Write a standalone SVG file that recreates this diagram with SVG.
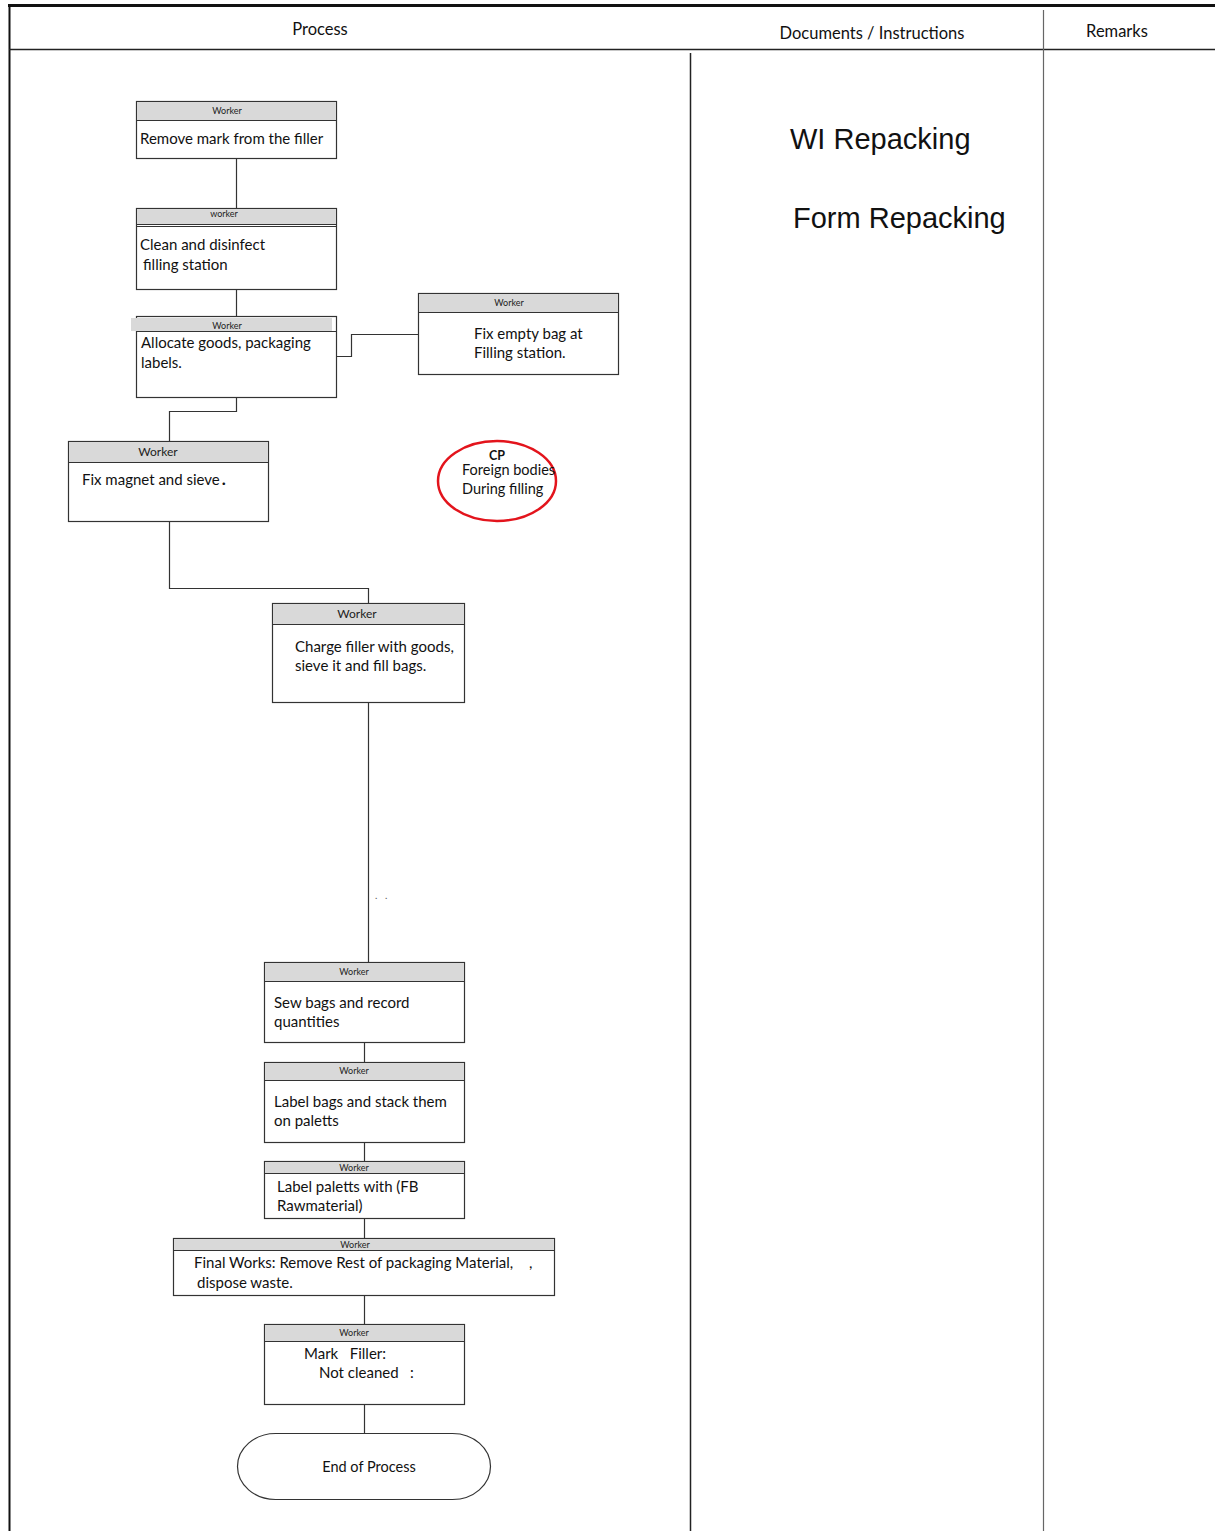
<svg xmlns="http://www.w3.org/2000/svg" width="1215" height="1531" viewBox="0 0 1215 1531">
<style>
.box{fill:#fff;stroke:#333;stroke-width:1.2}
.band{fill:#d9d9d9;stroke:#333;stroke-width:1}
.w{font-family:Lato,"Liberation Sans",sans-serif;font-size:9px;fill:#222;text-anchor:middle}
.t{font-family:Lato,"Liberation Sans",sans-serif;font-size:15px;fill:#111}
.h{font-family:Lato,"Liberation Sans",sans-serif;font-size:16.5px;fill:#111;text-anchor:middle}
.big{font-family:"Liberation Sans",Arial,sans-serif;font-size:29px;fill:#111}
.c{fill:none;stroke:#333;stroke-width:1.2}
</style>
<rect x="0" y="0" width="1215" height="1531" fill="#fff"/>
<g id="frame" fill="none">
<line x1="8" y1="5.5" x2="1215" y2="5.5" stroke="#111" stroke-width="3"/>
<line x1="9.5" y1="5" x2="9.5" y2="1531" stroke="#111" stroke-width="2"/>
<line x1="9" y1="49.5" x2="1215" y2="49.5" stroke="#222" stroke-width="1.5"/>
<line x1="690.5" y1="53" x2="690.5" y2="1531" stroke="#222" stroke-width="1.5"/>
<line x1="1043.5" y1="10" x2="1043.5" y2="1531" stroke="#666" stroke-width="1.2"/>
</g>
<g id="headers">
<text class="h" x="320" y="35">Process</text>
<text class="h" x="872" y="39">Documents / Instructions</text>
<text class="h" x="1117" y="37">Remarks</text>
<text class="big" x="790" y="149">WI Repacking</text>
<text class="big" x="793" y="228">Form Repacking</text>
</g>
<g id="connectors">
<path class="c" d="M236.5,158 V208"/>
<path class="c" d="M236.5,289 V316"/>
<path class="c" d="M336,356.5 H351.5 V334.5 H418"/>
<path class="c" d="M236.5,397 V411.5 H169.5 V441"/>
<path class="c" d="M169.5,521 V588.5 H368.5 V603"/>
<path class="c" d="M368.5,702 V962"/>
<path class="c" d="M364.5,1043 V1062"/>
<path class="c" d="M364.5,1142 V1161"/>
<path class="c" d="M364.5,1218 V1238"/>
<path class="c" d="M364.5,1295 V1324"/>
<path class="c" d="M364.5,1404 V1433"/>
</g>
<g id="n1">
<rect class="box" x="136.5" y="101.5" width="200" height="57"/>
<rect class="band" x="136.5" y="101.5" width="200" height="19"/>
<text class="w" x="227" y="114">Worker</text>
<text class="t" x="140" y="144">Remove mark from the filler</text>
</g>
<g id="n2">
<rect class="box" x="136.5" y="208.5" width="200" height="81"/>
<rect class="band" x="136.5" y="208.5" width="200" height="16"/>
<line x1="136.5" y1="226.5" x2="336.5" y2="226.5" stroke="#333" stroke-width="1"/>
<text class="w" x="224" y="217">worker</text>
<text class="t" x="140" y="250">Clean and disinfect</text>
<text class="t" x="143" y="270">filling station</text>
</g>
<g id="n3">
<rect class="box" x="136.5" y="316.5" width="200" height="81"/>
<rect x="131" y="318" width="201" height="13" fill="#d9d9d9"/>
<line x1="136.5" y1="331.5" x2="336.5" y2="331.5" stroke="#333" stroke-width="1"/>
<text class="w" x="227" y="329">Worker</text>
<text class="t" x="141" y="348">Allocate goods, packaging</text>
<text class="t" x="141" y="368">labels.</text>
</g>
<g id="n4">
<rect class="box" x="418.5" y="293.5" width="200" height="81"/>
<rect class="band" x="418.5" y="293.5" width="200" height="19"/>
<text class="w" x="509" y="306">Worker</text>
<text class="t" x="474" y="339">Fix empty bag at</text>
<text class="t" x="474" y="358">Filling station.</text>
</g>
<g id="n5">
<rect class="box" x="68.5" y="441.5" width="200" height="80"/>
<rect class="band" x="68.5" y="441.5" width="200" height="21"/>
<text class="w" x="158" y="456" style="font-size:12px">Worker</text>
<text class="t" x="82" y="485">Fix magnet and sieve<tspan font-weight="bold" font-size="17" dx="2">.</tspan></text>
</g>
<g id="cp">
<ellipse cx="497" cy="481" rx="59" ry="40" fill="none" stroke="#e3141c" stroke-width="2.5"/>
<text x="497" y="460" text-anchor="middle" font-family="Lato,'Liberation Sans',sans-serif" font-size="12.5" font-weight="bold" fill="#111">CP</text>
<text class="t" x="462" y="475" style="font-size:14.5px">Foreign bodies</text>
<text class="t" x="462" y="494" style="font-size:14.5px">During filling</text>
</g>
<g id="n6">
<rect class="box" x="272.5" y="603.5" width="192" height="99"/>
<rect class="band" x="272.5" y="603.5" width="192" height="21"/>
<text class="w" x="357" y="618" style="font-size:12px">Worker</text>
<text class="t" x="295" y="652">Charge filler with goods,</text>
<text class="t" x="295" y="671">sieve it and fill bags.</text>
</g>
<text x="375" y="899" font-family="Lato,sans-serif" font-size="10" fill="#555" xml:space="preserve">.   .</text>
<g id="n7">
<rect class="box" x="264.5" y="962.5" width="200" height="80"/>
<rect class="band" x="264.5" y="962.5" width="200" height="19"/>
<text class="w" x="354" y="975">Worker</text>
<text class="t" x="274" y="1008">Sew bags and record</text>
<text class="t" x="274" y="1027">quantities</text>
</g>
<g id="n8">
<rect class="box" x="264.5" y="1062.5" width="200" height="80"/>
<rect class="band" x="264.5" y="1062.5" width="200" height="18"/>
<text class="w" x="354" y="1074">Worker</text>
<text class="t" x="274" y="1107">Label bags and stack them</text>
<text class="t" x="274" y="1126">on paletts</text>
</g>
<g id="n9">
<rect class="box" x="264.5" y="1161.5" width="200" height="57"/>
<rect class="band" x="264.5" y="1161.5" width="200" height="12"/>
<text class="w" x="354" y="1171">Worker</text>
<text class="t" x="277" y="1192">Label paletts with (FB</text>
<text class="t" x="277" y="1211">Rawmaterial)</text>
</g>
<g id="n10">
<rect class="box" x="173.5" y="1238.5" width="381" height="57"/>
<rect class="band" x="173.5" y="1238.5" width="381" height="12"/>
<text class="w" x="355" y="1248">Worker</text>
<text class="t" x="194" y="1268">Final Works: Remove Rest of packaging Material,</text>
<text class="t" x="529" y="1268">,</text>
<text class="t" x="197" y="1288">dispose waste.</text>
</g>
<g id="n11">
<rect class="box" x="264.5" y="1324.5" width="200" height="80"/>
<rect class="band" x="264.5" y="1324.5" width="200" height="17"/>
<text class="w" x="354" y="1336">Worker</text>
<text class="t" x="304" y="1359" xml:space="preserve">Mark   Filler:</text>
<text class="t" x="319" y="1378" xml:space="preserve">Not cleaned   :</text>
</g>
<g id="n12">
<rect class="box" x="237.5" y="1433.5" width="253" height="66" rx="38" ry="33"/>
<text class="t" x="369" y="1472" text-anchor="middle" style="font-size:14.5px">End of Process</text>
</g>
</svg>
